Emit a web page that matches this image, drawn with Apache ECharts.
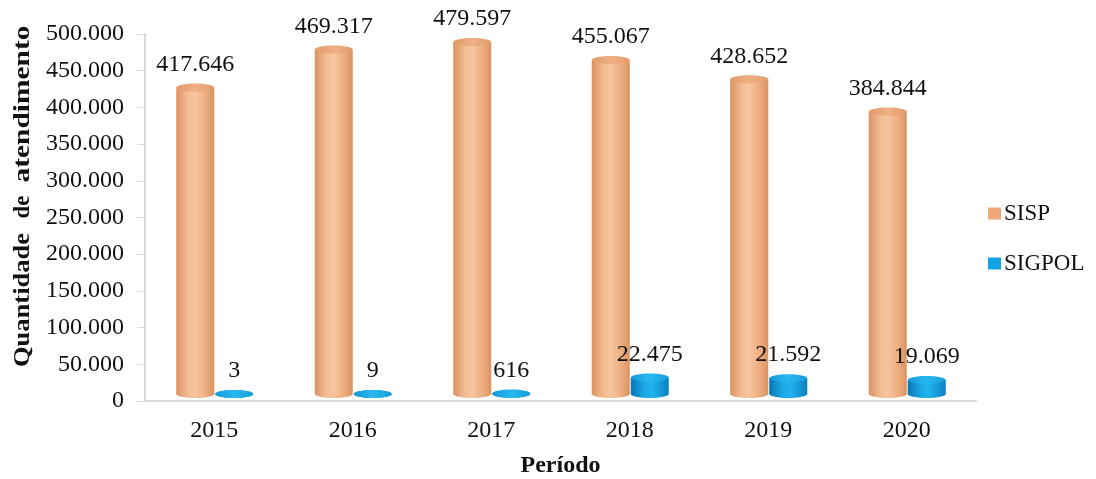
<!DOCTYPE html>
<html>
<head>
<meta charset="utf-8">
<script src="https://cdn.jsdelivr.net/npm/echarts@6/dist/echarts.min.js"></script>
<style>
  html, body { margin: 0; padding: 0; background: #fff; }
  #chart { width: 1096px; height: 479px; }
</style>
</head>
<body>
<div id="chart"></div>
<script>
// Annual service counts per system
const years = ['2015', '2016', '2017', '2018', '2019', '2020'];
const sispValues = [417646, 469317, 479597, 455067, 428652, 384844];
const sigpolValues = [3, 9, 616, 22475, 21592, 19069];
const seriesNames = ['SISP', 'SIGPOL'];

const FONT = "'Liberation Serif', 'Times New Roman', serif";

// Thousands separator with dots, e.g. 417.646
function fmt(v) {
  return String(v).replace(/\B(?=(\d{3})+(?!\d))/g, '.');
}

const palettes = {
  SISP: {
    legend: '#f0a878',
    body: [
      { offset: 0, color: '#dc9160' },
      { offset: 0.3, color: '#f3bc92' },
      { offset: 0.5, color: '#f6c5a0' },
      { offset: 0.8, color: '#ecab7b' },
      { offset: 1, color: '#da915e' }
    ],
    top: [
      { offset: 0, color: '#e39a68' },
      { offset: 0.5, color: '#eeb084' },
      { offset: 1, color: '#e39c6b' }
    ]
  },
  SIGPOL: {
    legend: '#12a3e5',
    body: [
      { offset: 0, color: '#0a74b2' },
      { offset: 0.35, color: '#1aa9e6' },
      { offset: 0.55, color: '#22b3ef' },
      { offset: 1, color: '#0c80c0' }
    ],
    top: [
      { offset: 0, color: '#139ad8' },
      { offset: 0.5, color: '#2ab8f0' },
      { offset: 1, color: '#159ed9' }
    ]
  }
};

// Cylinder drawn around the category centre, offset left/right per series
function cylinderRenderer(name, shift) {
  const pal = palettes[name];
  return function (params, api) {
    const cat = api.value(0);
    const val = api.value(1);
    const top = api.coord([cat, val]);
    const base = api.coord([cat, 0]);
    const halfW = 19;
    const depth = 7;   // lift of the 3D floor above the axis line
    const ry = 4;
    const cx = top[0] + shift;
    const yTop = top[1] - depth;
    const yBase = base[1] - depth;
    const bodyFill = new echarts.graphic.LinearGradient(0, 0, 1, 0, pal.body);
    const topFill = new echarts.graphic.LinearGradient(0, 0, 1, 0, pal.top);
    return {
      type: 'group',
      children: [
        {
          type: 'ellipse',
          shape: { cx: cx, cy: yBase, rx: halfW, ry: ry },
          style: { fill: bodyFill }
        },
        {
          type: 'rect',
          shape: { x: cx - halfW, y: yTop, width: halfW * 2, height: Math.max(0, yBase - yTop) },
          style: { fill: bodyFill }
        },
        {
          type: 'ellipse',
          shape: { cx: cx, cy: yTop, rx: halfW, ry: ry },
          style: { fill: topFill }
        },
        {
          type: 'text',
          x: cx,
          y: yTop - 23,
          style: {
            text: fmt(val),
            fill: '#111',
            font: '24px ' + FONT,
            align: 'center',
            verticalAlign: 'middle'
          }
        }
      ]
    };
  };
}

// Rotated word of the vertical axis title, stretched along its baseline
function titleWord(text, cy, length) {
  const font = 'bold 23px ' + FONT;
  const natural = echarts.format.getTextRect
    ? echarts.format.getTextRect(text, font).width
    : text.length * 12;
  return {
    type: 'text',
    x: 23,
    y: cy,
    rotation: Math.PI / 2,
    scaleX: length > 0 ? length / natural : 1,
    style: {
      text: text,
      font: font,
      fill: '#111',
      align: 'center',
      verticalAlign: 'middle'
    }
  };
}

const chart = echarts.init(document.getElementById('chart'), null, { renderer: 'canvas' });

chart.setOption({
  backgroundColor: '#fff',
  animation: false,
  grid: { left: 145, right: 120, top: 34, bottom: 78, containLabel: false, outerBoundsMode: 'none' },
  legend: {
    orient: 'vertical',
    left: 983,
    top: 197,
    itemWidth: 13,
    itemHeight: 12,
    itemGap: 27,
    icon: 'rect',
    textStyle: { fontFamily: FONT, fontSize: 23, color: '#111', padding: [0, 0, 0, -2] },
    data: seriesNames
  },
  xAxis: {
    type: 'category',
    data: years,
    axisLine: { lineStyle: { color: '#d9d9d9', width: 2 } },
    axisTick: { show: false },
    axisLabel: { fontFamily: FONT, fontSize: 24, color: '#111', margin: 18 },
    name: 'Período',
    nameLocation: 'middle',
    nameGap: 53,
    nameTextStyle: { fontFamily: FONT, fontSize: 24, fontWeight: 'bold', color: '#111' }
  },
  yAxis: {
    type: 'value',
    min: 0,
    max: 500000,
    interval: 50000,
    axisLine: { show: true, lineStyle: { color: '#d9d9d9', width: 2 } },
    axisTick: { show: true, length: 8, lineStyle: { color: '#d9d9d9', width: 1 } },
    splitLine: { show: false },
    axisLabel: { fontFamily: FONT, fontSize: 24, color: '#111', margin: 21, formatter: fmt }
  },
  graphic: [
    titleWord('Quantidade', 300, 134),
    titleWord('de', 207, 0),
    titleWord('atendimento', 104, 157)
  ],
  series: [
    {
      name: 'SISP',
      type: 'custom',
      itemStyle: { color: palettes.SISP.legend },
      renderItem: cylinderRenderer('SISP', -19),
      data: years.map((y, i) => [i, sispValues[i]])
    },
    {
      name: 'SIGPOL',
      type: 'custom',
      itemStyle: { color: palettes.SIGPOL.legend },
      renderItem: cylinderRenderer('SIGPOL', 20),
      data: years.map((y, i) => [i, sigpolValues[i]])
    }
  ]
});
</script>
</body>
</html>
